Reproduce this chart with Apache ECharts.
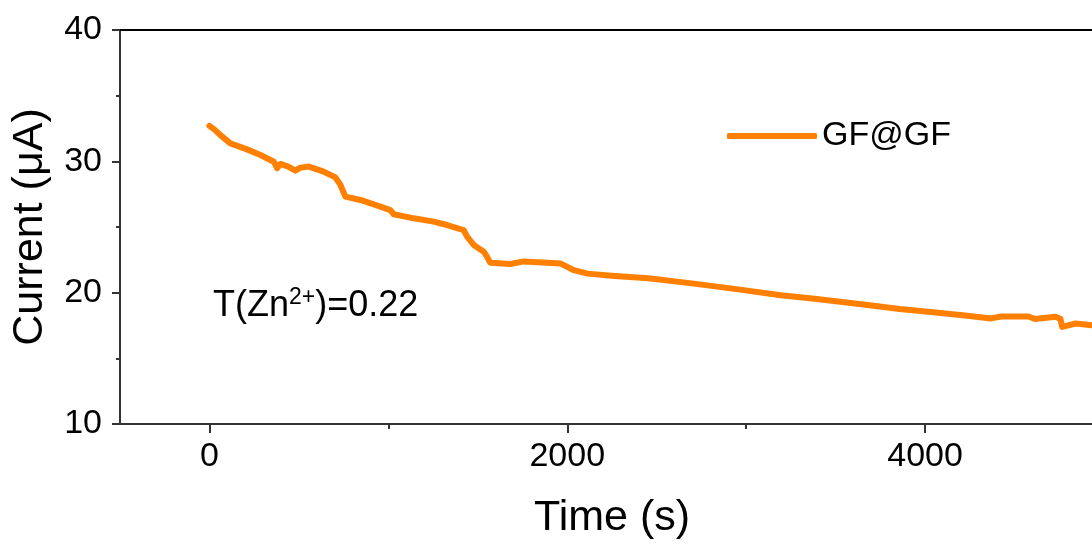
<!DOCTYPE html>
<html>
<head>
<meta charset="utf-8">
<script src="https://cdn.jsdelivr.net/npm/echarts@6/dist/echarts.min.js"></script>
<style>
html,body{margin:0;padding:0;background:#fff;}
#chart{width:1092px;height:545px;}
</style>
</head>
<body>
<div id="chart"></div>
<script>
const times = [0,30,61,117,210,285,360,378,397,440,480,508,555,639,704,732,760,844,955,1011,1030,1142,1253,1328,1421,1440,1477,1533,1551,1570,1682,1756,1887,1961,2037,2113,2264,2454,2719,2965,3193,3383,3667,3857,4046,4236,4369,4425,4577,4615,4729,4757,4766,4842,4933,5000];
const current = [32.7,32.4,32.0,31.37,30.91,30.48,29.97,29.47,29.8,29.6,29.29,29.52,29.6,29.21,28.78,28.2,27.31,27.06,26.55,26.29,25.97,25.66,25.41,25.15,24.77,24.26,23.63,23.12,22.74,22.28,22.18,22.38,22.28,22.23,21.71,21.45,21.27,21.09,20.67,20.23,19.80,19.54,19.08,18.76,18.51,18.25,18.04,18.19,18.19,17.99,18.17,17.99,17.39,17.65,17.52,17.55];
const xMajorTicks = [0, 2000, 4000];
const xMinorTicks = [1000, 3000];
const seriesName = 'GF@GF';
const xName = 'Time (s)';
const yName = 'Current (\u03bcA)';

const FONT = '"Liberation Sans", Arial, sans-serif';
const AX = '#333';
const chart = echarts.init(document.getElementById('chart'), null, {renderer: 'canvas'});
const xRange = {min: -500, max: 5000};
chart.setOption({
  animation: false,
  backgroundColor: '#fff',
  grid: {left: 120, top: 30, bottom: 121, right: -12, containLabel: false, outerBoundsMode: 'none'},
  legend: {
    show: true,
    left: 722, top: 114,
    itemWidth: 90, itemHeight: 6,
    itemGap: 10,
    icon: 'roundRect',
    textStyle: {fontFamily: FONT, fontSize: 34, color: '#000', padding: [0,0,0,0]},
    data: [seriesName]
  },
  xAxis: [{
    type: 'value', ...xRange,
    name: xName, nameLocation: 'middle', nameGap: 73,
    nameTextStyle: {fontFamily: FONT, fontSize: 43, color: '#000'},
    axisLine: {show: true, onZero: false, lineStyle: {color: AX, width: 2}},
    axisTick: {show: true, customValues: xMajorTicks, length: 9, lineStyle: {color: AX, width: 2}},
    axisLabel: {show: true, customValues: xMajorTicks, margin: 16, fontFamily: FONT, fontSize: 34, color: '#000', formatter: v => String(v)},
    splitLine: {show: false}
  }, {
    type: 'value', ...xRange, position: 'bottom',
    axisLine: {show: false},
    axisTick: {show: true, customValues: xMinorTicks, length: 5, lineStyle: {color: AX, width: 2}},
    axisLabel: {show: false, customValues: xMinorTicks},
    splitLine: {show: false}
  }, {
    type: 'value', ...xRange, position: 'top',
    axisLine: {show: true, onZero: false, lineStyle: {color: '#000', width: 2}},
    axisTick: {show: false}, axisLabel: {show: false}, splitLine: {show: false}
  }],
  yAxis: {
    type: 'value', min: 10, max: 40, interval: 10,
    name: yName, nameLocation: 'middle', nameGap: 68,
    nameTextStyle: {fontFamily: FONT, fontSize: 43, color: '#000'},
    axisLine: {show: true, onZero: false, lineStyle: {color: AX, width: 2}},
    axisTick: {show: true, length: 8, lineStyle: {color: AX, width: 2}},
    minorTick: {show: true, splitNumber: 2, length: 4, lineStyle: {color: AX, width: 2}},
    axisLabel: {margin: 18, fontFamily: FONT, fontSize: 34, color: '#000'},
    splitLine: {show: false}, minorSplitLine: {show: false}
  },
  graphic: [{
    type: 'text', left: 213, top: 286,
    style: {
      text: '{a|T(Zn}{s|2+}{a|)=0.22}',
      rich: {
        a: {fontFamily: FONT, fontSize: 36, fill: '#000', lineHeight: 40},
        s: {fontFamily: FONT, fontSize: 23, fill: '#000', verticalAlign: 'top', lineHeight: 40}
      }
    }
  }],
  series: [{
    name: seriesName, type: 'line', xAxisIndex: 0,
    data: times.map((t, i) => [t, current[i]]),
    showSymbol: false, symbol: 'none',
    lineStyle: {color: '#ff7f00', width: 6, cap: 'round', join: 'round'},
    itemStyle: {color: '#ff7f00'}
  }]
});
</script>
</body>
</html>
